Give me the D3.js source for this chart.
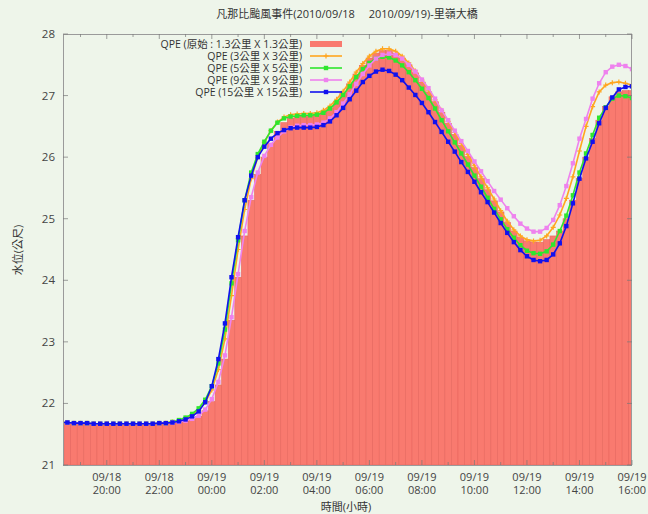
<!DOCTYPE html>
<html>
<head>
<meta charset="utf-8">
<script src="https://cdn.jsdelivr.net/npm/d3@7"></script>
<style>
body { margin: 0; background: #eef5ea; }
svg { display: block; font-family: "Open Sans", "Noto Sans CJK TC", sans-serif; }
</style>
</head>
<body>
<svg id="chart" width="648" height="514"></svg>
<script>
// water level at 15 min steps, first sample 2010/09/18 18:15
const startTime = "2010-09-18 18:15"
const stepMinutes = 15
const flat = [21.69,21.69,21.68,21.68,21.68,21.67,21.67,21.67,21.67,21.67,21.67,21.67,21.67,21.67,21.67,21.68,21.68]

const qpe13 = [21.67,21.67,21.67,21.67,21.67,21.67,21.67,21.67,21.67,21.67,21.67,21.67,21.67,21.67,21.67,21.67,21.67,
  21.68,21.69,21.71,21.74,21.79,21.88,22.03,22.3,22.72,23.35,24.05,24.72,25.3,25.72,
  26.0,26.22,26.42,26.56,26.63,26.66,26.68,26.68,26.69,26.73,26.8,26.91,27.04,27.19,27.35,27.49,27.61,27.69,
  27.73,27.73,27.69,27.61,27.5,27.37,27.22,27.06,26.9,26.73,26.55,26.37,26.19,26.01,25.83,25.65,25.47,25.29,
  25.11,24.94,24.8,24.7,24.64,24.62,24.62,24.66,24.72,24.8,25.0,25.3,25.65,26.0,26.3,26.6,26.82,26.98,27.06,27.08,27.08]

const qpe3 = flat.concat([21.70,21.72,21.76,21.81,21.89,22.02,22.22,22.55,23.05,23.75,24.5,25.15,25.65,26.0,
  26.24,26.43,26.57,26.65,26.69,26.7,26.71,26.71,26.72,26.76,26.83,26.94,27.07,27.22,27.38,27.52,27.64,27.72,
  27.76,27.76,27.72,27.64,27.53,27.4,27.25,27.09,26.93,26.76,26.58,26.4,26.22,26.04,25.86,25.68,25.5,25.32,
  25.13,24.96,24.82,24.72,24.66,24.64,24.65,24.72,24.86,25.06,25.33,25.68,26.1,26.5,26.82,27.06,27.17,27.21,27.22,27.2,27.17])

const qpe5 = flat.concat([21.70,21.73,21.77,21.83,21.92,22.06,22.28,22.65,23.2,23.95,24.65,25.3,25.75,26.05,
  26.25,26.43,26.56,26.63,26.66,26.67,26.68,26.68,26.69,26.72,26.79,26.89,27.01,27.15,27.3,27.43,27.53,27.6,
  27.63,27.62,27.57,27.49,27.38,27.25,27.11,26.96,26.79,26.6,26.42,26.24,26.06,25.88,25.7,25.52,25.34,25.16,
  24.99,24.83,24.69,24.57,24.48,24.44,24.43,24.47,24.58,24.8,25.05,25.38,25.75,26.06,26.36,26.64,26.81,26.95,27.0,26.99,26.96])

const qpe9 = flat.concat([21.69,21.70,21.72,21.75,21.8,21.9,22.07,22.35,22.78,23.4,24.1,24.8,25.35,25.75,
  26.02,26.2,26.32,26.42,26.48,26.51,26.52,26.52,26.53,26.56,26.63,26.73,26.87,27.02,27.19,27.35,27.49,27.6,
  27.66,27.68,27.66,27.6,27.5,27.39,27.26,27.12,26.95,26.76,26.6,26.43,26.26,26.1,25.93,25.77,25.61,25.45,
  25.31,25.17,25.04,24.92,24.84,24.79,24.79,24.85,24.98,25.22,25.53,25.9,26.3,26.62,26.95,27.2,27.38,27.47,27.5,27.48,27.43])

const qpe15 = flat.concat([21.69,21.71,21.74,21.79,21.87,22.02,22.28,22.72,23.3,24.05,24.7,25.3,25.7,26.0,
  26.17,26.3,26.39,26.44,26.47,26.48,26.48,26.48,26.49,26.52,26.58,26.68,26.8,26.94,27.08,27.22,27.32,27.39,
  27.42,27.40,27.34,27.25,27.13,27.01,26.88,26.73,26.57,26.41,26.25,26.09,25.92,25.76,25.60,25.43,25.27,25.10,
  24.93,24.77,24.62,24.49,24.39,24.33,24.31,24.33,24.42,24.6,24.88,25.25,25.65,25.98,26.25,26.55,26.8,26.97,27.1,27.14,27.15])

const yTicks = [21, 22, 23, 24, 25, 26, 27, 28]
const xDomain = ["2010-09-18 18:20", "2010-09-19 16:00"]
const legendNames = ["QPE (原始 : 1.3公里 X 1.3公里)", "QPE (3公里 X 3公里)", "QPE (5公里 X 5公里)",
  "QPE (9公里 X 9公里)", "QPE (15公里 X 15公里)"]
const title = "凡那比颱風事件(2010/09/18\u2003 2010/09/19)-里嶺大橋"

const parse = d3.timeParse("%Y-%m-%d %H:%M")
const t0 = parse(startTime)
const times = qpe13.map((v, i) => d3.timeMinute.offset(t0, i * stepMinutes))

const L = 63, R = 632, T = 34, B = 465
const svg = d3.select("#chart")
const x = d3.scaleTime().domain(xDomain.map(parse)).range([L, R])
const y = d3.scaleLinear().domain([21, 28]).range([B, T])

svg.append("defs").append("clipPath").attr("id", "plot")
  .append("rect").attr("x", L).attr("y", T).attr("width", R - L).attr("height", B - T)

// bars for the original resolution
const bw = x(d3.timeMinute.offset(t0, stepMinutes)) - x(t0)
svg.append("g").attr("clip-path", "url(#plot)")
  .selectAll("rect").data(qpe13).enter().append("rect")
  .attr("x", (d, i) => x(times[i]) - bw / 2)
  .attr("width", bw)
  .attr("y", d => y(d))
  .attr("height", d => B - y(d))
  .attr("fill", "#f97a6f")
  .attr("stroke", "#e8675e")
  .attr("stroke-width", 0.6)

const series = [
  {vals: qpe3, color: "#ffa61f", mark: "plus"},
  {vals: qpe5, color: "#2ee62e", mark: "square"},
  {vals: qpe9, color: "#ee82ee", mark: "square"},
  {vals: qpe15, color: "#1111ee", mark: "square"}
]

const line = d3.line().x((d, i) => x(times[i])).y(d => y(d))

function drawMark(g, cx, cy, s) {
  if (s.mark == "plus") {
    g.append("path").attr("d", `M${cx - 2.5},${cy}h5M${cx},${cy - 2.5}v5`)
      .attr("stroke", s.color).attr("stroke-width", 1.2)
  } else {
    g.append("rect").attr("x", cx - 2.2).attr("y", cy - 2.2).attr("width", 4.4).attr("height", 4.4)
      .attr("fill", s.color)
  }
}

const lg = svg.append("g").attr("clip-path", "url(#plot)")
series.forEach(s => {
  lg.append("path").datum(s.vals).attr("d", line)
    .attr("fill", "none").attr("stroke", s.color).attr("stroke-width", 1.6)
  const mg = lg.append("g")
  s.vals.forEach((v, i) => drawMark(mg, x(times[i]), y(v), s))
})

// frame and ticks
const axisColor = "#9a9a9a"
svg.append("rect").attr("x", L + 0.5).attr("y", T + 0.5).attr("width", R - L - 1).attr("height", B - T)
  .attr("fill", "none").attr("stroke", axisColor)

const tk = svg.append("g").attr("stroke", "#777").attr("stroke-opacity", 0.7)
yTicks.forEach(v => {
  tk.append("line").attr("x1", L).attr("x2", L + 5).attr("y1", y(v)).attr("y2", y(v))
  tk.append("line").attr("x1", R - 5).attr("x2", R).attr("y1", y(v)).attr("y2", y(v))
})
x.ticks(d3.timeHour.every(1)).forEach(t => {
  const len = t.getHours() % 2 == 0 ? 5 : 3
  tk.append("line").attr("x1", x(t)).attr("x2", x(t)).attr("y1", B).attr("y2", B - len)
  tk.append("line").attr("x1", x(t)).attr("x2", x(t)).attr("y1", T).attr("y2", T + len)
})

const txt = "#444"
svg.append("g").selectAll("text").data(yTicks).enter().append("text")
  .attr("x", 55).attr("y", d => y(d) + 4).attr("text-anchor", "end")
  .attr("font-size", 11.5).attr("fill", txt).text(d => d)

const fmtD = d3.timeFormat("%m/%d"), fmtH = d3.timeFormat("%H:%M")
x.ticks(d3.timeHour.every(2)).forEach(t => {
  svg.append("text").attr("x", x(t)).attr("y", 481).attr("text-anchor", "middle")
    .attr("font-size", 11).attr("fill", txt).text(fmtD(t))
  svg.append("text").attr("x", x(t)).attr("y", 493.5).attr("text-anchor", "middle")
    .attr("font-size", 11).attr("fill", txt).text(fmtH(t))
})

svg.append("text").attr("x", 347).attr("y", 18).attr("text-anchor", "middle")
  .attr("font-size", 11).attr("fill", "#333").style("white-space", "pre").text(title)
svg.append("text").attr("x", 346).attr("y", 511).attr("text-anchor", "middle")
  .attr("font-size", 11).attr("fill", "#333").text("時間(小時)")
svg.append("text").attr("transform", "translate(22,250) rotate(-90)").attr("text-anchor", "middle")
  .attr("font-size", 11).attr("fill", "#333").text("水位(公尺)")

// legend
const legY = [44, 56, 68, 80, 92]
legendNames.forEach((name, k) => {
  svg.append("text").attr("x", 302).attr("y", legY[k] + 4).attr("text-anchor", "end")
    .attr("font-size", 10.5).attr("fill", "#333").text(name)
  if (k == 0) {
    svg.append("rect").attr("x", 310).attr("y", legY[k] - 3).attr("width", 32).attr("height", 6)
      .attr("fill", "#f97a6f")
  } else {
    const s = series[k - 1]
    svg.append("line").attr("x1", 310).attr("x2", 342).attr("y1", legY[k]).attr("y2", legY[k])
      .attr("stroke", s.color).attr("stroke-width", 1.6)
    drawMark(svg, 326, legY[k], s)
  }
})
</script>
</body>
</html>
